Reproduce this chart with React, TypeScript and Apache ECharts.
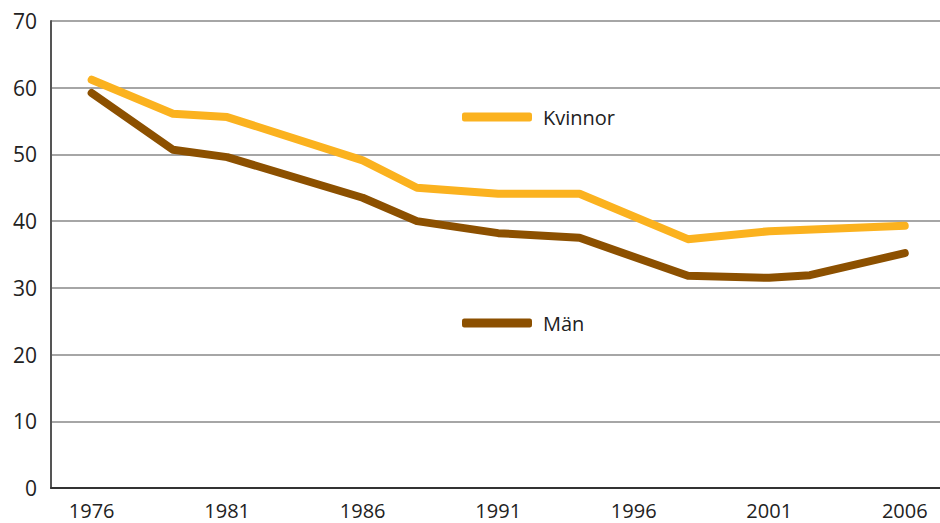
import React, { useEffect, useRef } from "react";
import * as echarts from "echarts";

const kvinnorYears = [1976, 1979, 1981, 1986, 1988, 1991, 1994, 1998, 2001, 2006];
const kvinnorValues = [61.2, 56.1, 55.6, 49.1, 45.0, 44.1, 44.1, 37.3, 38.5, 39.3];

const manYears = [1976, 1979, 1981, 1986, 1988, 1991, 1994, 1998, 2001, 2002.5, 2006];
const manValues = [59.2, 50.7, 49.6, 43.5, 40.0, 38.2, 37.5, 31.8, 31.5, 31.9, 35.2];

const xTickLabels = [1976, 1981, 1986, 1991, 1996, 2001, 2006];
const yTicks = [0, 10, 20, 30, 40, 50, 60, 70];

const seriesNames = ["Kvinnor", "Män"];
const FONT = "'Open Sans', sans-serif";

export default function App() {
  const ref = useRef<HTMLDivElement>(null);
  useEffect(() => {
    if (!ref.current) return;
    const chart = echarts.init(ref.current, null, { renderer: "svg" });
    const pair = (xs: number[], ys: number[]) => xs.map((x, i) => [x, ys[i]]);
    const legendText = { fontFamily: FONT, fontSize: 20, color: "#222", padding: [0, 0, 0, 6] };
    chart.setOption({
      animation: false,
      backgroundColor: "#ffffff",
      grid: { left: 51, right: 0, top: 21, bottom: 35, containLabel: false },
      legend: [
        {
          data: [seriesNames[0]],
          left: 462,
          top: 107,
          padding: 0,
          icon: "roundRect",
          itemWidth: 70,
          itemHeight: 9,
          itemGap: 12,
          textStyle: legendText,
        },
        {
          data: [seriesNames[1]],
          left: 462,
          top: 313,
          padding: 0,
          icon: "roundRect",
          itemWidth: 70,
          itemHeight: 9,
          itemGap: 12,
          textStyle: legendText,
        },
      ],
      xAxis: {
        type: "value",
        min: 1974.5,
        max: 2007.3,
        axisLine: { show: true, lineStyle: { color: "#333", width: 2 } },
        axisTick: { show: false },
        splitLine: { show: false },
        axisLabel: {
          customValues: xTickLabels,
          formatter: (v: number) => String(v),
          fontFamily: FONT,
          fontSize: 20,
          color: "#222",
          margin: 12,
        },
      },
      yAxis: {
        type: "value",
        min: yTicks[0],
        max: yTicks[yTicks.length - 1],
        interval: 10,
        axisLine: { show: true, lineStyle: { color: "#555", width: 2 } },
        axisTick: { show: false },
        splitLine: { show: true, lineStyle: { color: "#888", width: 1.5 } },
        axisLabel: {
          fontFamily: FONT,
          fontSize: 21,
          color: "#222",
          margin: 14,
        },
      },
      series: [
        {
          name: seriesNames[0],
          type: "line",
          data: pair(kvinnorYears, kvinnorValues),
          symbol: "none",
          color: "#FBB21F",
          lineStyle: { width: 8, cap: "round", join: "round", color: "#FBB21F" },
        },
        {
          name: seriesNames[1],
          type: "line",
          data: pair(manYears, manValues),
          symbol: "none",
          color: "#8C5000",
          lineStyle: { width: 8, cap: "round", join: "round", color: "#8C5000" },
        },
      ],
    });
    return () => chart.dispose();
  }, []);
  return (
    <div
      ref={ref}
      style={{ position: "fixed", left: 0, top: 0, width: 940, height: 523 }}
    />
  );
}
